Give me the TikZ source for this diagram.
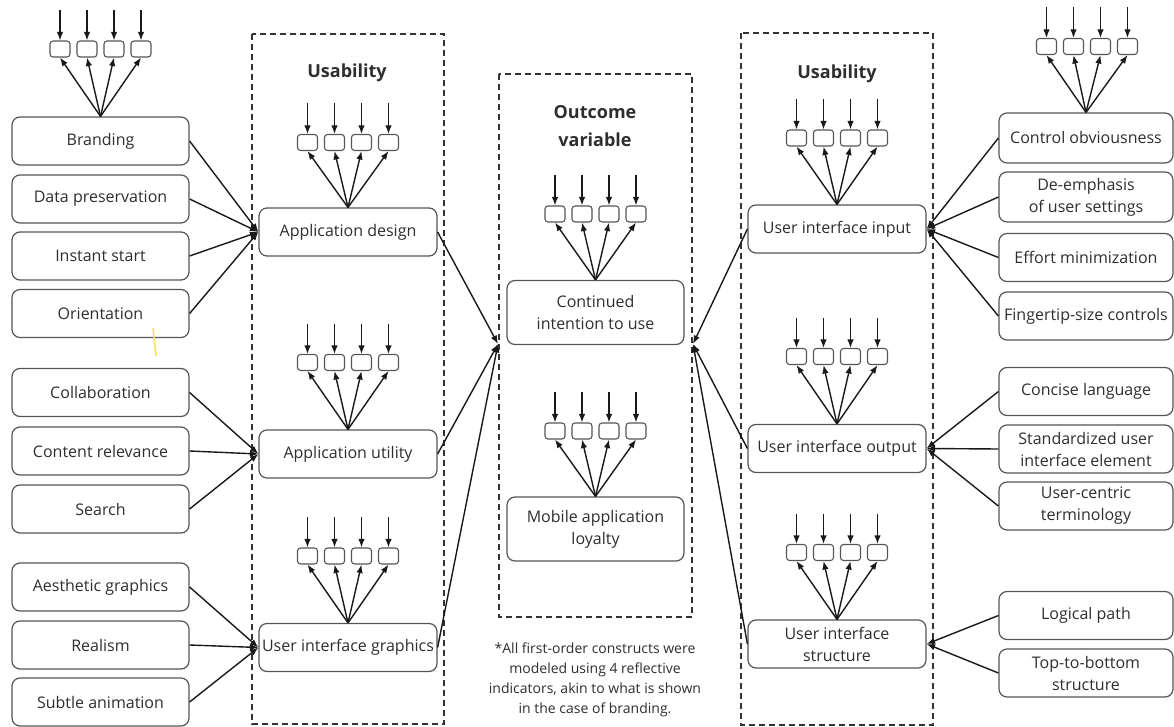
\documentclass[tikz,border=0pt]{standalone}
\usepackage{fontspec}
\setmainfont{Open Sans}
\usetikzlibrary{arrows.meta}
\definecolor{txt}{HTML}{2E2E2E}
\definecolor{edgec}{HTML}{555555}
\definecolor{hl}{HTML}{F2E14C}
\newcommand{\indset}[4]{%
  \foreach \k/\dx in {1/-40.5,2/-13.5,3/13.5,4/40.5}{%
    \node[ind] (#1-\k) at ({#2+\dx},#3) {};
    \coordinate (#1-t\k) at ({#2+\dx},{#3-39});
    \draw[arr] (#1-t\k) -- (#1-\k.north);
    \draw[arr] (#4.north) -- (#1-\k.south);
  }}
\tikzset{
  box/.style={draw=edgec, line width=1.2pt, rounded corners=8pt, minimum width=177pt,
    minimum height=48pt, align=center, text=txt, inner sep=2pt,
    font=\fontsize{16}{22}\selectfont},
  ind/.style={draw=edgec, line width=1.1pt, rounded corners=3pt, minimum width=20pt,
    minimum height=16pt, inner sep=0pt},
  arr/.style={-{Latex[length=8.5pt,width=6.5pt]}, line width=1.4pt, black!90},
  dashbox/.style={dash pattern=on 6pt off 4pt, line width=1.7pt, black!80},
  ttl/.style={font=\fontsize{18}{28}\selectfont\bfseries, text=txt, align=center},
}
\begin{document}
\begin{tikzpicture}[x=1pt,y=-1pt]
\useasboundingbox (0,0) rectangle (1174,727);
% dashed containers
\draw[dashbox] (252,34) rectangle (444,724);
\draw[dashbox] (499,74) rectangle (692,617);
\draw[dashbox] (741,33) rectangle (933,725);
% titles
\node[ttl] (t1) at (347,73) {Usability};
\node[ttl] (t2) at (837,74) {Usability};
\node[ttl] (t3) at (595,126) {Outcome\\variable};
% left boxes
\node[box] (brand) at (100.5,141) {Branding};
\node[box] (data) at (100.5,199) {Data preservation};
\node[box] (inst) at (100.5,256) {Instant start};
\node[box] (orient) at (100.5,313.5) {Orientation};
\node[box] (collab) at (100.5,392.5) {Collaboration};
\node[box] (content) at (100.5,451) {Content relevance};
\node[box] (search) at (100.5,509) {Search};
\node[box] (aesth) at (100.5,587) {Aesthetic graphics};
\node[box] (real) at (100.5,645) {Realism};
\node[box] (subtle) at (100.5,702) {Subtle animation};
% left inner
\node[box, minimum width=178pt] (appd) at (348,232) {Application design};
\node[box, minimum width=178pt] (appu) at (348,454) {Application utility};
\node[box, minimum width=178pt, inner sep=0pt] (uig) at (348,647.5) {User interface graphics};
% middle
\node[box, minimum height=64pt] (cont) at (595.5,312.5) {Continued\\intention to use};
\node[box, minimum height=64pt] (loyal) at (595.5,529) {Mobile application\\loyalty};
% right inner
\node[box, minimum width=178pt] (uii) at (837,229) {User interface input};
\node[box, minimum width=178pt] (uio) at (837,448.5) {User interface output};
\node[box, minimum width=178pt] (uis) at (837,644) {User interface\\structure};
% right boxes
\node[box, minimum width=174pt, minimum height=50pt] (ctrl) at (1086,138) {Control obviousness};
\node[box, minimum width=174pt, minimum height=50pt] (demph) at (1086,197) {De-emphasis\\of user settings};
\node[box, minimum width=174pt] (effort) at (1086,257.5) {Effort minimization};
\node[box, minimum width=174pt, inner sep=0pt] (finger) at (1086,316) {Fingertip-size controls};
\node[box, minimum width=174pt] (concise) at (1086,391.5) {Concise language};
\node[box, minimum width=174pt] (std) at (1086,449) {Standardized user\\interface element};
\node[box, minimum width=174pt] (ucent) at (1086,506) {User-centric\\terminology};
\node[box, minimum width=174pt] (logic) at (1086,615.5) {Logical path};
\node[box, minimum width=174pt] (ttb) at (1086,673) {Top-to-bottom\\structure};
% indicators
\indset{ib}{100.5}{49}{brand}
\indset{iad}{348}{142.5}{appd}
\indset{iau}{348}{362.5}{appu}
\indset{iug}{348}{556}{uig}
\indset{ic}{595.5}{214}{cont}
\indset{il}{595.5}{431}{loyal}
\indset{iui}{837}{138}{uii}
\indset{iuo}{837}{356.5}{uio}
\indset{ius}{837}{552.5}{uis}
\indset{ict}{1087}{46.5}{ctrl}
% connectors left
\foreach \s in {brand,data,inst,orient}{\draw[arr] (\s.east) -- (appd.west);}
\foreach \s in {collab,content,search}{\draw[arr] (\s.east) -- (appu.west);}
\foreach \s in {aesth,real,subtle}{\draw[arr] (\s.east) -- (uig.west);}
% connectors right
\foreach \s in {ctrl,demph,effort,finger}{\draw[arr] (\s.west) -- (uii.east);}
\foreach \s in {concise,std,ucent}{\draw[arr] (\s.west) -- (uio.east);}
\foreach \s in {logic,ttb}{\draw[arr] (\s.west) -- (uis.east);}
% to outcome
\coordinate (mL) at (498,344);
\coordinate (mR) at (693,344);
\foreach \s in {appd,appu,uig}{\draw[arr] (\s.east) -- (mL);}
\foreach \s in {uii,uio,uis}{\draw[arr] (\s.west) -- (mR);}
% note
\node[text=txt, align=center, font=\fontsize{14}{20}\selectfont] (note) at (595,680)
  {*All first-order constructs were\\modeled using 4 reflective\\indicators, akin to what is shown\\in the case of branding.};
% stray mark
\draw[hl, line width=1.5pt] (153,328) -- (156,356);
\end{tikzpicture}
\end{document}
